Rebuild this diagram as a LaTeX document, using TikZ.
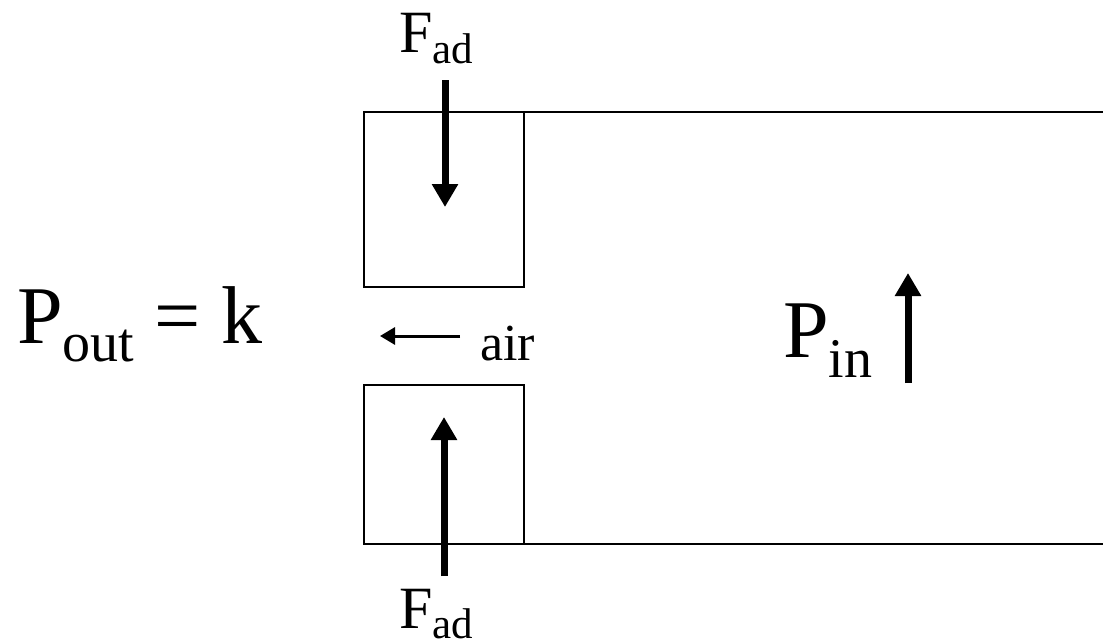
\documentclass[tikz,border=0pt]{standalone}
\usepackage{fontspec}
\setmainfont{Liberation Serif}
\usetikzlibrary{arrows.meta, positioning}

% subscript set lower and smaller than the main letter
\newcommand{\lowsub}[3]{\raisebox{-#2pt}{\fontsize{#1}{#1}\selectfont #3}}

\begin{document}
\begin{tikzpicture}[
    x=1pt, y=-1pt,
    wall/.style={line width=2pt},
    force/.style={line width=7pt, -{Triangle[length=23pt, width=25pt]}},
    flow/.style={line width=3pt, -{Triangle[length=15pt, width=17pt]}},
    bigtext/.style={anchor=base west, inner sep=0pt, font=\fontsize{82}{82}\selectfont},
    forcetext/.style={anchor=base west, inner sep=0pt, font=\fontsize{60}{60}\selectfont},
]
\useasboundingbox (0, 0) rectangle (1103, 641);

% ============================================================
% Tube walls and the two plugs at the opening
% ============================================================
\draw[wall] (364, 112) rectangle (524, 287);
\draw[wall] (364, 385) rectangle (524, 544);
\draw[wall] (524, 112) -- (1103, 112);
\draw[wall] (524, 544) -- (1103, 544);

% --- Adhesion forces on the plugs ---
\coordinate (topstart) at (445, 80);
\coordinate (topend) at (445, 207);
\draw[force] (topstart) -- (topend);
\node[forcetext] (fadtop) at (399, 52) {F\lowsub{43}{11}{ad}};

\coordinate (botstart) at (444, 576);
\coordinate (botend) at (444, 417);
\draw[force] (botstart) -- (botend);
\node[forcetext] (fadbot) at (399, 628) {F\lowsub{43}{10}{ad}};

% --- Air leaving through the gap ---
\coordinate (airstart) at (460, 336);
\coordinate (airend) at (380, 336);
\draw[flow] (airstart) -- (airend);
\node[anchor=base west, inner sep=0pt, font=\fontsize{52}{52}\selectfont] (air) at (480, 360) {air};

% --- Pressures outside and inside ---
\node[bigtext] (pout) at (17, 343) {P\lowsub{56}{18}{out} = k};
\node[bigtext] (pin) at (783, 357) {P\lowsub{56}{20}{in}};
\coordinate (pinstart) at (908, 383);
\coordinate (pinend) at (908, 273);
\draw[force] (pinstart) -- (pinend);

\end{tikzpicture}
\end{document}
